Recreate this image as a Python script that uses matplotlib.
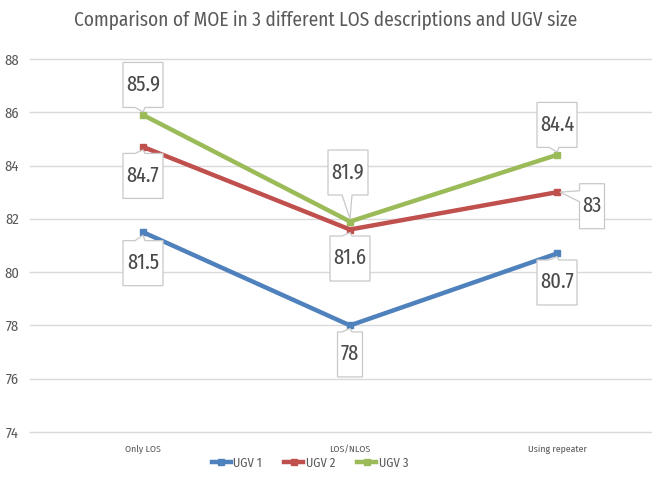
import matplotlib
matplotlib.use("Agg")
from matplotlib import pyplot as plt
from matplotlib import patches as mpatches
from matplotlib import transforms as mtransforms

categories = ["Only LOS", "LOS/NLOS", "Using repeater"]
series_names = ["UGV 1", "UGV 2", "UGV 3"]
ugv1 = [81.5, 78.0, 80.7]
ugv2 = [84.7, 81.6, 83.0]
ugv3 = [85.9, 81.9, 84.4]
label_texts = [["81.5", "78", "80.7"],
               ["84.7", "81.6", "83"],
               ["85.9", "81.9", "84.4"]]
yticks = [74, 76, 78, 80, 82, 84, 86, 88]

COLORS = ["#4F81BD", "#C0504D", "#9BBB59"]
# label box centre in pixels (dx right, dy down) from each point
LABEL_OFFSETS = [[(0, 31), (0, 29), (0, 29)],
                 [(0, 29), (0, 29), (35, 14)],
                 [(0, -30), (-2, -49), (0, -30)]]
BOX_H = 45

plt.rcParams["font.family"] = ["Fira Sans Condensed", "DejaVu Sans"]


def callout_box(ax, x, y, text, dx, dy):
    """white label box with a small wedge pointing at (x, y); sizes in pixels"""
    w = 40 if len(text) > 2 else 25
    h = BOX_H
    cx, cy = dx, -dy
    x0, x1 = cx - w / 2, cx + w / 2
    y0, y1 = cy - h / 2, cy + h / 2
    if abs(dx) > w / 2:
        # point is beside the box -> wedge on the left edge
        tip = (3, 0)
        verts = [(x0, y0), (x1, y0), (x1, y1), (x0, y1),
                 (x0, y1 - 7), tip, (x0, y1 - 18)]
    elif dy > 0:
        # box below the point -> wedge on top edge
        tip = (0, -3)
        verts = [(x0, y0), (x1, y0), (x1, y1), (2, y1), tip, (-8, y1), (x0, y1)]
    else:
        tip = (0, 3)
        verts = [(x0, y0), (-8, y0), tip, (2, y0), (x1, y0), (x1, y1), (x0, y1)]
    verts = [(a / 100, b / 100) for a, b in verts]
    tr = ax.figure.dpi_scale_trans + mtransforms.ScaledTranslation(x, y, ax.transData)
    poly = mpatches.Polygon(verts, closed=True, facecolor="white",
                            edgecolor="#C8C8C8", linewidth=0.9,
                            transform=tr, zorder=5, clip_on=False)
    ax.add_patch(poly)
    ax.text(cx / 100, cy / 100 + 0.005, text, transform=tr, ha="center", va="center",
            fontsize=16, color="#4A4A4A",
            family=["Fira Sans Extra Condensed", "DejaVu Sans"], zorder=6)


fig = plt.figure(figsize=(6.52, 4.87), dpi=100)
ax = fig.add_axes([30 / 652, 1 - 432 / 487, 1 - 30 / 652, (432 - 59) / 487])

xs = list(range(len(categories)))
for i, (vals, name) in enumerate(zip([ugv1, ugv2, ugv3], series_names)):
    ax.plot(xs, vals, color=COLORS[i], linewidth=3.2, marker="s",
            markersize=5, label=name, zorder=3)

ax.set_xlim(-(143 - 30) / 207, 2 + (652 - 557) / 207)
ax.set_ylim(74, 88)

for i, vals in enumerate([ugv1, ugv2, ugv3]):
    for j, v in enumerate(vals):
        dx, dy = LABEL_OFFSETS[i][j]
        callout_box(ax, xs[j], v, label_texts[i][j], dx, dy)

ax.set_yticks(yticks)
ax.set_xticks(xs)
ax.set_xticklabels(categories)
ax.tick_params(axis="x", length=0, labelsize=7, colors="#595959", pad=9)
ax.tick_params(axis="y", length=0, labelsize=10.5, colors="#595959", pad=8)
ax.grid(axis="y", color="#D9D9D9", linewidth=1)
for gl in ax.get_ygridlines():
    gl.set_clip_on(False)
ax.set_axisbelow(True)
for s in ax.spines.values():
    s.set_visible(False)

fig.text(0.5, 1 - 20 / 487, "Comparison of MOE in 3 different LOS descriptions and UGV size",
         ha="center", va="center", fontsize=13.9, color="#595959")

leg = fig.legend(loc="center", bbox_to_anchor=(310 / 652, 1 - 463 / 487), ncol=3,
                 frameon=False, fontsize=9, handlelength=1.5, columnspacing=1.8,
                 handletextpad=0.2, labelcolor="#595959")

fig.savefig("out.png", dpi=100)
